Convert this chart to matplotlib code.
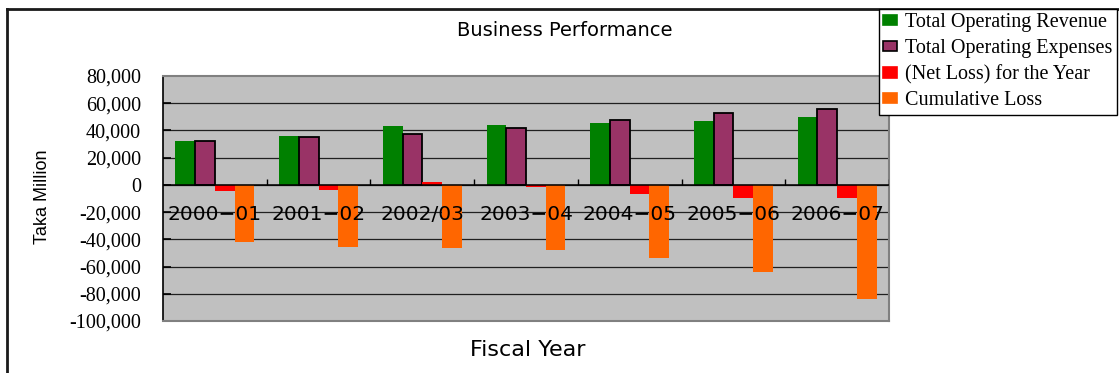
import matplotlib
matplotlib.use("Agg")
import matplotlib.pyplot as plt
from matplotlib.patches import Rectangle
from matplotlib.lines import Line2D
from matplotlib.ticker import FuncFormatter

# Taka million, fiscal years 2000-01 .. 2006-07
years = ["2000\u221201", "2001\u221202", "2002/03", "2003\u221204",
         "2004\u221205", "2005\u221206", "2006\u221207"]
revenue = [32300, 36000, 43300, 44300, 45300, 47000, 50000]
expenses = [32000, 35300, 37500, 42100, 47800, 53100, 56100]
net_loss = [-4200, -4000, 2000, -1200, -6800, -9800, -9800]
cumulative = [-42100, -45500, -46500, -47500, -53900, -64200, -84000]

series_names = ["Total Operating Revenue", "Total Operating Expenses",
                "(Net Loss) for the Year", "Cumulative Loss"]
colors = ["#008000", "#993366", "#FF0000", "#FF6600"]
edges = ["none", "black", "none", "none"]

fig = plt.figure(figsize=(11.19, 3.73), dpi=100)
ax = fig.add_axes([0.1457, 0.1394, 0.6488, 0.6568])
ax.set_facecolor("#C0C0C0")

# horizontal grid lines
for y in range(-80000, 80000, 20000):
    ax.axhline(y, color="#202020", lw=0.9, zorder=1)

w = 0.19
for k, vals in enumerate([revenue, expenses, net_loss, cumulative]):
    xs = [i + (k - 1.5) * w for i in range(len(years))]
    ax.bar(xs, vals, width=w, color=colors[k], edgecolor=edges[k],
           linewidth=1.3 if edges[k] != "none" else 0, zorder=3)

# category axis through zero, with tick marks between categories
ax.axhline(0, color="black", lw=1.1, zorder=4)
ax.vlines([i + 0.5 for i in range(len(years))], 0, 4400,
          color="black", lw=1, zorder=4)

for i, lab in enumerate(years):
    ax.text(i, -20000, lab, ha="center", va="center_baseline", fontsize=14.5,
            family="DejaVu Sans", zorder=6)

ax.set_xlim(-0.5, len(years) - 0.5)
ax.set_ylim(-100000, 80000)
ax.set_xticks([])
ax.set_yticks(range(-100000, 80001, 20000))
ax.yaxis.set_major_formatter(FuncFormatter(lambda v, p: f"{int(v):,}"))
ax.tick_params(axis="y", direction="in", length=6, width=1.2, pad=16)
for t in ax.get_yticklabels():
    t.set_family("Liberation Serif")
    t.set_fontsize(14.5)

for s in ["top", "right", "bottom"]:
    ax.spines[s].set_color("#808080")
    ax.spines[s].set_linewidth(1.5)
ax.spines["left"].set_color("black")
ax.spines["left"].set_linewidth(1.2)

fig.text(0.505, 0.918, "Business Performance", ha="center", va="center",
         fontsize=14, family="DejaVu Sans")
fig.text(0.472, 0.062, "Fiscal Year", ha="center", va="center",
         fontsize=16, family="DejaVu Sans")
fig.text(0.038, 0.472, "Taka Million", ha="center", va="center",
         rotation=90, fontsize=13, family="Liberation Sans")

handles = [Rectangle((0, 0), 1, 1, facecolor=c, edgecolor=e if e != "none" else c,
                     linewidth=1.2) for c, e in zip(colors, edges)]
leg = fig.legend(handles, series_names, loc="upper right",
                 bbox_to_anchor=(1117 / 1119, 1 - 9 / 373),
                 prop={"family": "Liberation Serif", "size": 14.5},
                 frameon=True, fancybox=False, framealpha=1,
                 edgecolor="black", handlelength=0.7, handleheight=0.42,
                 handletextpad=0.4, labelspacing=0.34, borderpad=0.22,
                 borderaxespad=0)
leg.get_frame().set_linewidth(1.0)

# outer chart frame
fig.add_artist(Line2D([7 / 1119, 7 / 1119], [0, 1 - 9 / 373],
                      transform=fig.transFigure, color="#1a1a1a", lw=2))
fig.add_artist(Line2D([7 / 1119, 1], [1 - 9 / 373, 1 - 9 / 373],
                      transform=fig.transFigure, color="#1a1a1a", lw=2))

fig.savefig("out.png", dpi=100)
